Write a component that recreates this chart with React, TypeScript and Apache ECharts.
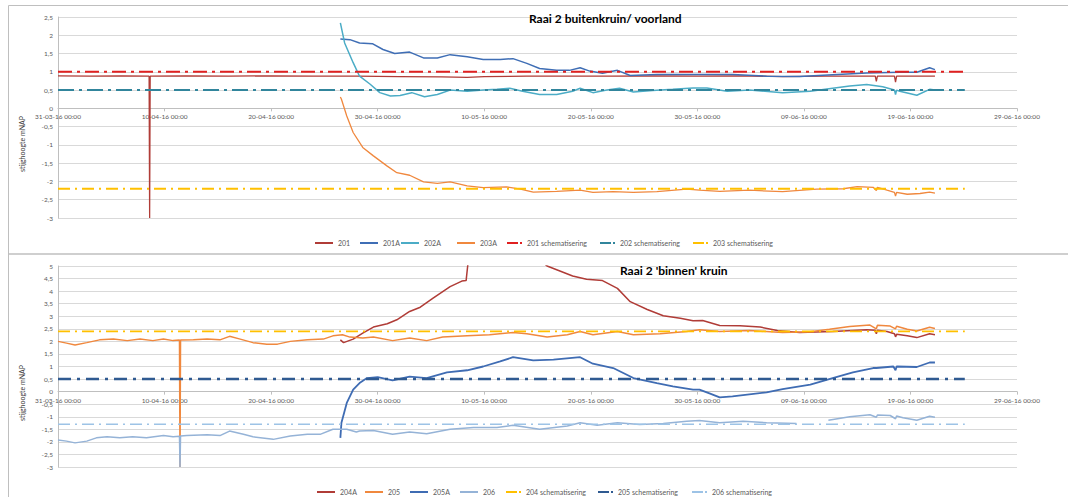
import React, { useEffect, useRef } from "react";
import * as echarts from "echarts";

// x values are days since 31-03-16 00:00
const xTickStart = 0;
const xTickEnd = 90;
const xTickStep = 10;

// ---- Top chart: Raai 2 buitenkruin/ voorland ----
const s201: [number, number][] = [
  [0, 0.89], [3, 0.88], [6, 0.89], [8.55, 0.88], [8.6, -3], [8.65, 0.88], [12, 0.89], [16, 0.88],
  [20, 0.89], [24, 0.88], [28, 0.88], [32, 0.87], [36, 0.86], [38.4, 0.85], [40, 0.87], [44, 0.88],
  [48, 0.88], [52, 0.88], [56, 0.89], [60, 0.88], [64, 0.89], [68, 0.87], [72, 0.88], [76.7, 0.88],
  [76.8, 0.74], [76.9, 0.88], [78.5, 0.88], [78.6, 0.72], [78.7, 0.88], [80, 0.88], [82.3, 0.88],
];
const s201A: [number, number][] = [
  [26.5, 1.9], [27.4, 1.88], [28.3, 1.79], [29.5, 1.77], [30.5, 1.61], [31.6, 1.5], [33, 1.54],
  [34.3, 1.38], [35.6, 1.38], [36.8, 1.47], [38.4, 1.41], [39.9, 1.34], [41.5, 1.34], [42.7, 1.36],
  [44, 1.23], [45.2, 1.09], [46.8, 1.04], [48, 1.04], [49, 1.11], [49.9, 1.02], [51.1, 0.96],
  [52.5, 1.04], [53.7, 0.9], [56.2, 0.93], [59.3, 0.93], [63.3, 0.93], [66.5, 0.88], [69.6, 0.87],
  [72.7, 0.92], [75.9, 0.97], [79, 0.99], [80.6, 0.99], [81.8, 1.11], [82.3, 1.06],
];
const s202A: [number, number][] = [
  [26.5, 2.34], [26.9, 1.79], [27.7, 1.25], [28.3, 0.88], [29.3, 0.66], [30.2, 0.43], [31.2, 0.34],
  [32.1, 0.35], [33.2, 0.43], [34.4, 0.32], [35.6, 0.38], [36.8, 0.5], [38.4, 0.47], [39.9, 0.5],
  [41.2, 0.52], [42.4, 0.55], [43.6, 0.47], [45.2, 0.38], [46.8, 0.38], [48.3, 0.47], [49, 0.55],
  [50.2, 0.43], [51.5, 0.5], [52.7, 0.55], [54, 0.45], [55.8, 0.49], [57.7, 0.52], [59.6, 0.56],
  [60.9, 0.56], [62.8, 0.47], [64.9, 0.5], [68, 0.43], [70.6, 0.47], [72.7, 0.55], [74.3, 0.61],
  [75.9, 0.65], [77.4, 0.59], [78.5, 0.5], [78.6, 0.38], [78.7, 0.5], [79, 0.47], [80.6, 0.36],
  [81.8, 0.52], [82.3, 0.5],
];
const s203A: [number, number][] = [
  [26.5, 0.31], [26.6, 0.25], [27.1, -0.21], [27.7, -0.66], [28.6, -1.07], [29.6, -1.3], [30.9, -1.58],
  [31.8, -1.76], [33, -1.83], [34.3, -2.01], [35.6, -2.05], [36.8, -2.01], [38.4, -2.12], [39.9, -2.17],
  [42.1, -2.15], [43.4, -2.21], [44.6, -2.29], [46.8, -2.27], [49, -2.24], [50.2, -2.3], [52.1, -2.28],
  [54, -2.3], [56.2, -2.28], [59, -2.21], [60.2, -2.24], [62.1, -2.27], [64.9, -2.24], [68, -2.28],
  [71.2, -2.21], [73.7, -2.2], [75, -2.14], [76.5, -2.16], [76.8, -2.25], [76.9, -2.16], [77.8, -2.24],
  [78.5, -2.3], [78.6, -2.4], [78.7, -2.3], [79.7, -2.35], [80.9, -2.33], [81.8, -2.29], [82.3, -2.32],
];
const schemTopLevels = { "201 schematisering": 1.0, "202 schematisering": 0.5, "203 schematisering": -2.2 };

// ---- Bottom chart: Raai 2 'binnen' kruin ----
const s204A: [number, number][] = [
  [26.5, 2.06], [26.8, 1.95], [27.7, 2.09], [28.6, 2.33], [29.6, 2.57], [30.9, 2.7], [31.8, 2.86],
  [33, 3.19], [34, 3.36], [35.2, 3.72], [36.8, 4.18], [37.9, 4.4], [38.3, 4.42], [38.6, 5.6],
  [40, 6.6], [42, 7.0], [44.5, 5.5], [45.9, 5.0], [47.1, 4.8], [48.3, 4.6], [49.6, 4.47], [51.1, 4.42],
  [52.5, 4.11], [53.7, 3.58], [55.3, 3.27], [56.8, 3.02], [58.4, 2.92], [59.6, 2.82], [60.5, 2.83],
  [62.1, 2.63], [64, 2.62], [65.9, 2.57], [67.5, 2.43], [69.6, 2.35], [72.7, 2.39], [75.9, 2.46],
  [76.7, 2.44], [76.8, 2.3], [76.9, 2.44], [77.8, 2.39], [78.5, 2.3], [78.6, 2.18], [78.7, 2.28],
  [79.7, 2.22], [80.6, 2.15], [81.8, 2.3], [82.3, 2.26],
];
const s205: [number, number][] = [
  [0, 2.0], [0.8, 1.93], [1.6, 1.86], [2.7, 1.95], [3.9, 2.06], [5.2, 2.09], [6.5, 2.03], [7.7, 2.09],
  [8.9, 2.03], [9.9, 2.09], [10.8, 2.03], [11.4, 2.05], [11.45, -3], [11.5, 2.05], [12.7, 2.06],
  [14, 2.09], [15.2, 2.06], [16.1, 2.2], [17.1, 2.09], [18.3, 1.95], [19.6, 1.89], [20.6, 1.89],
  [21.8, 2.0], [23.4, 2.06], [24.9, 2.09], [25.8, 2.22], [26.7, 2.26], [27.4, 2.17], [28.6, 2.13],
  [29.6, 2.17], [31.4, 2.03], [33, 2.13], [34.6, 2.03], [36.1, 2.17], [38.4, 2.22], [40.5, 2.26],
  [42.7, 2.35], [44, 2.3], [45.9, 2.17], [47.8, 2.26], [49, 2.39], [50.2, 2.26], [52.5, 2.39],
  [54, 2.26], [56.5, 2.3], [59, 2.39], [60.2, 2.46], [62.1, 2.39], [64.9, 2.43], [68, 2.35],
  [70.6, 2.38], [72.4, 2.48], [74.3, 2.59], [76.2, 2.65], [76.8, 2.5], [76.9, 2.64], [78.1, 2.61],
  [78.6, 2.5], [78.7, 2.6], [79.7, 2.48], [80.6, 2.41], [81.8, 2.56], [82.3, 2.51],
];
const s205A: [number, number][] = [
  [26.5, -1.84], [26.6, -1.24], [27.1, -0.45], [27.7, 0.08], [28.3, 0.34], [29, 0.54], [30, 0.58],
  [31.4, 0.45], [33, 0.6], [34.6, 0.54], [36.5, 0.77], [38.4, 0.85], [39.9, 1.0], [41.5, 1.2],
  [42.7, 1.37], [44.6, 1.24], [46.5, 1.27], [49, 1.37], [50.2, 1.11], [52.1, 0.94], [54, 0.54],
  [56.2, 0.34], [57.7, 0.21], [59.6, 0.08], [60.2, 0.08], [61.2, -0.08], [62.1, -0.23], [63.3, -0.19],
  [66.5, -0.03], [68, 0.1], [70.6, 0.28], [72.7, 0.54], [74.6, 0.77], [76.5, 0.94], [76.8, 0.94],
  [78.4, 1.0], [78.6, 0.85], [78.7, 1.0], [80.6, 0.98], [81.8, 1.16], [82.3, 1.16],
];
const s206: ([number, number] | [number, null])[] = [
  [0, -1.93], [0.8, -1.97], [1.6, -2.04], [2.7, -1.97], [3.6, -1.84], [4.6, -1.8], [5.8, -1.84],
  [7, -1.8], [8.3, -1.84], [9.9, -1.75], [10.8, -1.8], [11.4, -1.78], [11.45, -3], [11.5, -1.77],
  [12.1, -1.75], [14, -1.72], [15.2, -1.75], [16.1, -1.57], [17.4, -1.7], [18.3, -1.8], [20.2, -1.9],
  [21.8, -1.77], [23.4, -1.7], [24.6, -1.7], [25.8, -1.5], [27.1, -1.5], [28, -1.61], [28.3, -1.57],
  [29.6, -1.55], [31.4, -1.7], [33, -1.61], [34.6, -1.68], [36.8, -1.5], [39, -1.43], [41.2, -1.43],
  [42.7, -1.34], [45.2, -1.5], [47.8, -1.37], [49, -1.24], [50.6, -1.34], [52.5, -1.24], [54.6, -1.31],
  [56.8, -1.27], [59, -1.18], [60.2, -1.15], [62.1, -1.24], [64.3, -1.18], [66.5, -1.24], [69.3, -1.27],
  [70.8, null], [72.3, -1.14], [74.3, -1.0], [76.2, -0.92], [76.8, -1.02], [76.9, -0.93], [78.1, -0.95],
  [78.6, -1.08], [78.7, -0.97], [79.3, -1.04], [80.6, -1.14], [81.8, -0.98], [82.3, -1.02],
];
const schemBottomLevels = { "204 schematisering": 2.4, "205 schematisering": 0.5, "206 schematisering": -1.3 };
const schemEndDay = 85.1;

const topYRange = [-3, 2.5];
const bottomYRange = [-3, 5];

const DAY0 = Date.UTC(2016, 2, 31);
const FONT = "Lato";
const pad = (n: number) => String(n).padStart(2, "0");
const fmtDate = (v: number) => {
  const d = new Date(DAY0 + Math.round(v) * 86400000);
  return `${pad(d.getUTCDate())}-${pad(d.getUTCMonth() + 1)}-${String(d.getUTCFullYear()).slice(2)} 00:00`;
};
const fmtNum = (v: number) => String(v).replace(".", ",");

const GRID_H = 201;
const LINE_ICON = "path://M0,0H18V2H0Z";
const SCHEM_ICON = "path://M0,0H11V2H0ZM13,0H15V2H13Z";

export default function App() {
  const ref = useRef<HTMLDivElement>(null);
  useEffect(() => {
    if (!ref.current) return;
    const chart = echarts.init(ref.current, null, { renderer: "svg" });

    // shift the x axis (line + labels) up so that it sits on y = 0
    const zeroOffset = (range: number[]) => -(GRID_H * (0 - range[0])) / (range[1] - range[0]);

    const xAxisBase = (gi: number, range: number[]) => ({
      type: "value",
      gridIndex: gi,
      position: "bottom",
      offset: zeroOffset(range),
      min: xTickStart,
      max: xTickEnd,
      interval: xTickStep,
      axisLine: { show: true, onZero: false, lineStyle: { color: "#BFBFBF", width: 1 } },
      axisTick: { show: true, length: 3, inside: false, lineStyle: { color: "#BFBFBF" } },
      axisLabel: { fontSize: 6.5, color: "#595959", fontFamily: FONT, margin: 5, formatter: fmtDate, showMaxLabel: true, showMinLabel: true },
      splitLine: { show: false },
    });
    const yAxisBase = (gi: number, range: number[]) => ({
      type: "value",
      gridIndex: gi,
      min: range[0],
      max: range[1],
      interval: 0.5,
      axisLine: { show: true, onZero: false, lineStyle: { color: "#BFBFBF", width: 1 } },
      axisTick: { show: false },
      axisLabel: { fontSize: 6.5, color: "#595959", fontFamily: FONT, margin: 5, formatter: fmtNum },
      splitLine: { show: true, lineStyle: { color: "#D9D9D9", width: 1 } },
    });

    const line = (name: string, data: any[], color: string, width: number, gi: number, z = 3) => ({
      type: "line",
      name,
      data,
      xAxisIndex: gi,
      yAxisIndex: gi,
      symbol: "none",
      showSymbol: false,
      connectNulls: false,
      clip: true,
      z,
      color,
      lineStyle: { color, width, type: "solid" },
      itemStyle: { color },
    });
    const schem = (name: string, level: number, color: string, width: number, dash: number[], gi: number) => ({
      type: "line",
      name,
      data: [[0, level], [schemEndDay, level]],
      xAxisIndex: gi,
      yAxisIndex: gi,
      symbol: "none",
      showSymbol: false,
      z: 4,
      color,
      lineStyle: { color, width, type: dash },
      itemStyle: { color },
    });

    const series = [
      line("201", s201, "#B03C37", 1.3, 0),
      line("201A", s201A, "#3F6EB5", 1.5, 0),
      line("202A", s202A, "#4BACC6", 1.5, 0),
      line("203A", s203A, "#F0883E", 1.3, 0),
      schem("201 schematisering", schemTopLevels["201 schematisering"], "#E02020", 2, [14, 5, 3, 5], 0),
      schem("202 schematisering", schemTopLevels["202 schematisering"], "#31859C", 2, [16, 5, 3, 5], 0),
      schem("203 schematisering", schemTopLevels["203 schematisering"], "#FFC000", 1.8, [12, 5, 2, 5], 0),
      line("204A", s204A, "#B03C37", 1.5, 1),
      line("205", s205, "#F0883E", 1.5, 1),
      line("205A", s205A, "#3F6CB3", 1.8, 1),
      line("206", s206, "#95B3D7", 1.5, 1),
      schem("204 schematisering", schemBottomLevels["204 schematisering"], "#FFC000", 1.8, [12, 5, 2, 5], 1),
      schem("205 schematisering", schemBottomLevels["205 schematisering"], "#2F5A91", 2.5, [13, 6, 3, 6], 1),
      schem("206 schematisering", schemBottomLevels["206 schematisering"], "#9DC3E6", 1.5, [12, 5, 2, 5], 1),
    ];

    const legendItem = (name: string, left: number, centerY: number, isSchem: boolean, thick = 2) => ({
      data: [name],
      left,
      top: centerY - 5,
      orient: "horizontal",
      padding: 0,
      itemGap: 0,
      itemWidth: isSchem ? 15 : 18,
      itemHeight: thick,
      icon: isSchem ? SCHEM_ICON : LINE_ICON,
      selectedMode: false,
      textStyle: { fontSize: 7, color: "#595959", fontFamily: FONT, lineHeight: 10, height: 10 },
    });
    const legend = [
      legendItem("201", 315, 243, false),
      legendItem("201A", 360, 243, false),
      legendItem("202A", 401, 243, false),
      legendItem("203A", 457, 243, false),
      legendItem("201 schematisering", 507, 243, true),
      legendItem("202 schematisering", 600, 243, true),
      legendItem("203 schematisering", 693, 243, true),
      legendItem("204A", 317, 492, false),
      legendItem("205", 365, 492, false),
      legendItem("205A", 410, 492, false),
      legendItem("206", 460, 492, false),
      legendItem("204 schematisering", 506, 492, true),
      legendItem("205 schematisering", 598, 492, true, 3),
      legendItem("206 schematisering", 692, 492, true),
    ];

    const axisTitle = (y: number) => ({
      type: "text",
      x: 22,
      y,
      rotation: Math.PI / 2,
      style: {
        text: "stijghoogte mNAP",
        fill: "#404040",
        font: `7px ${FONT}`,
        align: "center",
        verticalAlign: "middle",
        textAlign: "center",
        textVerticalAlign: "middle",
      },
    });

    chart.setOption({
      animation: false,
      backgroundColor: "#ffffff",
      textStyle: { fontFamily: FONT },
      title: [
        { text: "Raai 2 buitenkruin/ voorland", left: 529, top: 12, padding: 0, textStyle: { fontSize: 12, fontWeight: "bold", color: "#000", fontFamily: FONT } },
        { text: "Raai 2 'binnen' kruin", left: 620, top: 264, padding: 0, textStyle: { fontSize: 12, fontWeight: "bold", color: "#000", fontFamily: FONT } },
      ],
      grid: [
        { left: 58, top: 17, width: 959, height: GRID_H, containLabel: false },
        { left: 58, top: 266, width: 959, height: GRID_H, containLabel: false },
      ],
      xAxis: [xAxisBase(0, topYRange), xAxisBase(1, bottomYRange)],
      yAxis: [yAxisBase(0, topYRange), yAxisBase(1, bottomYRange)],
      legend,
      series,
      graphic: [
        { type: "rect", z: -10, shape: { x: 8.5, y: 5.5, width: 1070, height: 248.5 }, style: { fill: "none", stroke: "#BFBFBF", lineWidth: 1 } },
        { type: "rect", z: -10, shape: { x: 8.5, y: 254, width: 1070, height: 260 }, style: { fill: "none", stroke: "#BFBFBF", lineWidth: 1 } },
        axisTitle(144),
        axisTitle(393),
      ],
    });
    return () => chart.dispose();
  }, []);
  return <div ref={ref} style={{ position: "fixed", left: 0, top: 0, width: 1068, height: 497, background: "#fff" }} />;
}
